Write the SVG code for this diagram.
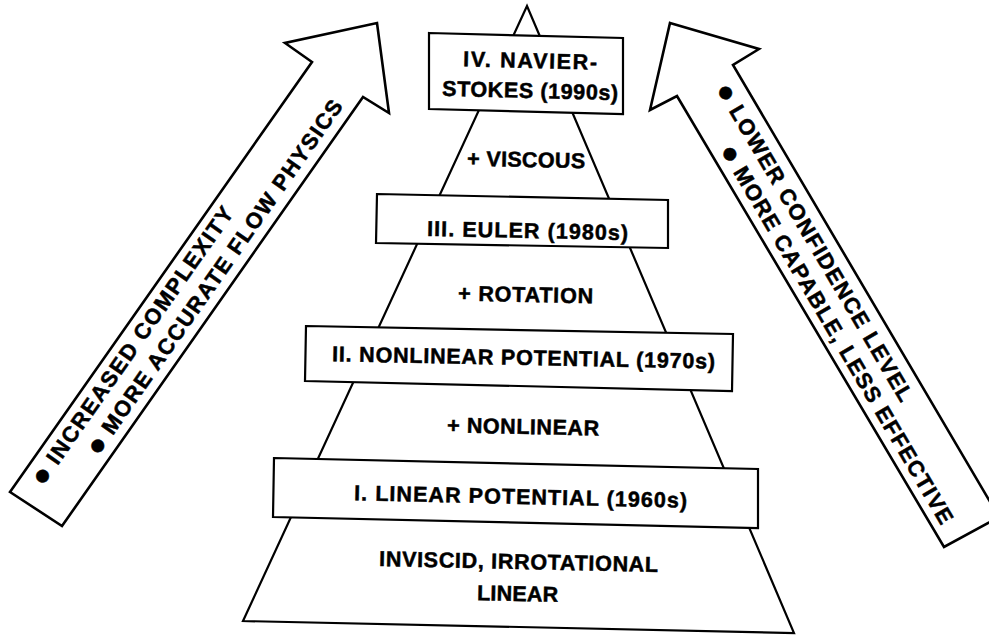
<svg xmlns="http://www.w3.org/2000/svg" width="989" height="636" viewBox="0 0 989 636">
<style>
  .ln { fill: none; stroke: #000; stroke-width: 2.2; stroke-linejoin: miter; }
  .bx { fill: #fff; stroke: #000; stroke-width: 2.2; }
  .ar { fill: #fff; stroke: #000; stroke-width: 2.6; stroke-linejoin: miter; }
  .t { font-family: "Liberation Sans", Arial, sans-serif; font-weight: bold; font-size: 21.5px; fill: #000; stroke: #000; stroke-width: 0.5; text-anchor: middle; }
  .at { font-family: "Liberation Sans", Arial, sans-serif; font-weight: bold; font-size: 22px; fill: #000; stroke: #000; stroke-width: 0.5; }
  .bul { font-size: 44px; }
</style>
<rect width="989" height="636" fill="#fff"/>

<g id="pyramid">
  <polygon class="ln" points="527,6 243,621 794,633"/>
  <text class="t" x="518.5" y="569" textLength="279" lengthAdjust="spacing" transform="rotate(1.2 518 569)">INVISCID, IRROTATIONAL</text>
  <text class="t" x="517.5" y="601" textLength="81" lengthAdjust="spacing" transform="rotate(1.2 517 601)">LINEAR</text>
  <text class="t" x="526" y="167" textLength="118" lengthAdjust="spacing" transform="rotate(1.2 526 167)">+ VISCOUS</text>
  <text class="t" x="525.5" y="302" textLength="135" lengthAdjust="spacing" transform="rotate(1.2 525 302)">+ ROTATION</text>
  <text class="t" x="523" y="434" textLength="152" lengthAdjust="spacing" transform="rotate(1.2 523 434)">+ NONLINEAR</text>
</g>

<g id="box-iv">
  <polygon class="bx" points="429,33 623,38 623,114 429,109"/>
  <text class="t" x="530" y="68" textLength="134" lengthAdjust="spacing" transform="rotate(1.4 530 68)">IV.  NAVIER-</text>
  <text class="t" x="530" y="98" textLength="176" lengthAdjust="spacing" transform="rotate(1.4 530 98)">STOKES (1990s)</text>
</g>

<g id="box-iii">
  <polygon class="bx" points="377,194 668,200 668,248 376,243"/>
  <text class="t" x="527.5" y="238" textLength="201" lengthAdjust="spacing" transform="rotate(1.2 527 238)">III.  EULER  (1980s)</text>
</g>

<g id="box-ii">
  <polygon class="bx" points="306,326 733,334 732,391 305,381"/>
  <text class="t" x="523.5" y="365" textLength="383" lengthAdjust="spacing" transform="rotate(1.1 523 365)">II.  NONLINEAR POTENTIAL (1970s)</text>
</g>

<g id="box-i">
  <polygon class="bx" points="274,458 758,469 758,528 273,517"/>
  <text class="t" x="520.5" y="504" textLength="333" lengthAdjust="spacing" transform="rotate(1.3 520 504)">I.  LINEAR POTENTIAL  (1960s)</text>
</g>

<g id="arrow-left">
  <polygon class="ar" points="10,492 312,62 285,43 377,23 389,113 363,97 62,526"/>
  <g transform="translate(10,492) rotate(-55)">
    <text class="at" x="24" y="24" textLength="333" lengthAdjust="spacing"><tspan class="bul" dy="8">•</tspan><tspan dy="-8"> INCREASED COMPLEXITY</tspan></text>
    <text class="at" x="80.5" y="52" textLength="427" lengthAdjust="spacing"><tspan class="bul" dy="8">•</tspan><tspan dy="-8"> MORE ACCURATE FLOW PHYSICS</tspan></text>
  </g>
</g>

<g id="arrow-right">
  <polygon class="ar" points="670,23 759,49 733,65 999,517 944,547 677,96 650,110"/>
  <g transform="translate(677,96) rotate(59.5)">
    <text class="at" x="14.5" y="-37" textLength="364" lengthAdjust="spacing"><tspan class="bul" dy="8">•</tspan><tspan dy="-8"> LOWER CONFIDENCE LEVEL</tspan></text>
    <text class="at" x="69.5" y="-9.5" textLength="435" lengthAdjust="spacing"><tspan class="bul" dy="8">•</tspan><tspan dy="-8"> MORE CAPABLE, LESS EFFECTIVE</tspan></text>
  </g>
</g>

<g id="connectors"></g>
</svg>
